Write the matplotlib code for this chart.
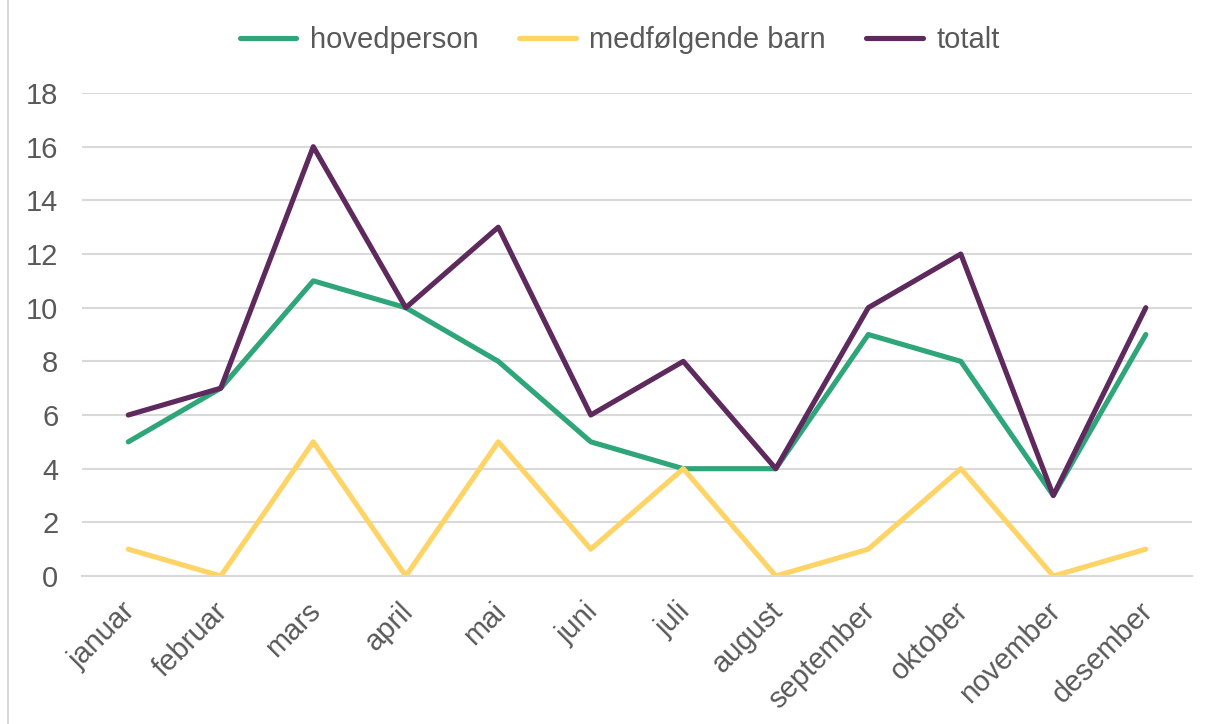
import matplotlib.pyplot as plt
import matplotlib.transforms as mtransforms
from matplotlib.lines import Line2D

# data
months = ["januar", "februar", "mars", "april", "mai", "juni", "juli",
          "august", "september", "oktober", "november", "desember"]
hovedperson = [5, 7, 11, 10, 8, 5, 4, 4, 9, 8, 3, 9]
medfolgende_barn = [1, 0, 5, 0, 5, 1, 4, 0, 1, 4, 0, 1]
totalt = [6, 7, 16, 10, 13, 6, 8, 4, 10, 12, 3, 10]

plt.rcParams["font.family"] = ["Liberation Sans", "DejaVu Sans"]
text_col = "#595959"
fs = 21

fig = plt.figure(figsize=(12.08, 7.24), dpi=100)
ax = fig.add_axes([0.0679, 0.2044, 0.9189, 0.6671])

x = range(len(months))
kw = dict(lw=3.7, solid_capstyle="round", solid_joinstyle="round")
ax.plot(x, hovedperson, color="#2FA57A", label="hovedperson", **kw)
ax.plot(x, medfolgende_barn, color="#FFD466", label="medfølgende barn", **kw)
ax.plot(x, totalt, color="#5E2A5E", label="totalt", **kw)

ax.set_xlim(-0.5, len(months) - 0.5)
ax.set_ylim(0, 18)
ax.set_yticks(range(0, 19, 2))
ax.set_xticks(list(x))
ax.set_xticklabels(months, rotation=45, ha="right", rotation_mode="anchor")
ax.tick_params(axis="both", length=0, labelsize=fs, colors=text_col)
ax.tick_params(axis="y", pad=17)
ax.tick_params(axis="x", pad=15)
# nudge month labels a little to the left
shift = mtransforms.ScaledTranslation(-0.07, 0, fig.dpi_scale_trans)
for lab in ax.get_xticklabels():
    lab.set_transform(lab.get_transform() + shift)
ax.grid(axis="y", color="#D9D9D9", lw=1.5)
ax.set_axisbelow(True)
for s in ["top", "right", "left"]:
    ax.spines[s].set_visible(False)
ax.spines["bottom"].set_color("#D9D9D9")
ax.spines["bottom"].set_linewidth(1.5)

leg = fig.legend(loc="center", bbox_to_anchor=(0.513, 0.945), ncol=3,
                 frameon=False, fontsize=fs, handlelength=1.95,
                 columnspacing=1.4, handletextpad=0.45)
for t in leg.get_texts():
    t.set_color(text_col)

# thin frame line on the left edge
fig.add_artist(Line2D([0.0066, 0.0066], [0, 1], color="#D9D9D9", lw=1.5))

fig.savefig("out.png", dpi=100)
